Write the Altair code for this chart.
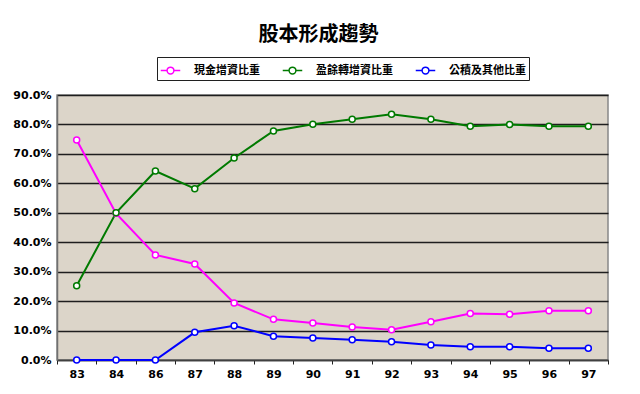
import altair as alt
import pandas as pd

years = ["83", "84", "86", "87", "88", "89", "90", "91", "92", "93", "94", "95", "96", "97"]
cash = [74.7, 49.8, 35.7, 32.6, 19.4, 13.8, 12.6, 11.2, 10.3, 13.0, 15.8, 15.5, 16.7, 16.7]
surplus = [25.2, 50.0, 64.2, 58.2, 68.6, 77.8, 80.1, 81.8, 83.5, 81.8, 79.4, 80.0, 79.4, 79.4]
reserve = [0.0, 0.0, 0.0, 9.4, 11.6, 8.1, 7.5, 6.9, 6.2, 5.1, 4.5, 4.5, 4.0, 4.0]
series_names = ["現金增資比重", "盈餘轉增資比重", "公積及其他比重"]
series_colors = ["#FF00FF", "#007A00", "#0000FF"]

rows = []
for name, vals in zip(series_names, [cash, surplus, reserve]):
    for y, v in zip(years, vals):
        rows.append({"year": y, "value": v / 100.0, "series": name})
df = pd.DataFrame(rows)

legend_path = ("M-1,0 L-0.35,0 M0.35,0 L1,0 "
               "M-0.35,0 A0.35,0.35 0 1,1 0.35,0 A0.35,0.35 0 1,1 -0.35,0 Z")

x_enc = alt.X(
    "year:N", sort=years, bandPosition=0.5,
    scale=alt.Scale(type="band", paddingInner=0, paddingOuter=0),
    axis=alt.Axis(title=None, labelAngle=0, tickBand="extent", grid=False,
                  domainColor="#404040", domainWidth=1.5, tickColor="#202020",
                  tickSize=4, labelPadding=4, labelFontWeight="bold",
                  labelFontSize=11, labelFont="DejaVu Sans", labelColor="black"),
)
y_enc = alt.Y(
    "value:Q",
    scale=alt.Scale(domain=[0, 0.9], nice=False),
    axis=alt.Axis(title=None, format=".1%", values=[i / 10 for i in range(10)],
                  grid=True, gridColor="#1E1E1E", gridWidth=1.5, ticks=False,
                  domainColor="#707070", domainWidth=1.5, labelPadding=6,
                  labelFontWeight="bold", labelFontSize=11, labelFont="DejaVu Sans",
                  labelColor="black"),
)
color_enc = alt.Color(
    "series:N", sort=series_names,
    scale=alt.Scale(domain=series_names, range=series_colors),
    legend=alt.Legend(
        title=None, orient="none", direction="horizontal", legendX=100, legendY=-38,
        symbolType=legend_path, symbolSize=380, symbolStrokeWidth=1.5,
        symbolFillColor="white", labelFont="Noto Sans CJK TC", labelFontSize=11,
        labelFontWeight="bold", labelColor="black", labelOffset=13,
        columnPadding=19, strokeColor="#202020", fillColor="white", padding=3,
    ),
)

lines = alt.Chart(df).mark_line(strokeWidth=2).encode(x=x_enc, y=y_enc, color=color_enc)
points = alt.Chart(df).mark_point(filled=False, fill="white", fillOpacity=1, size=36,
                                  strokeWidth=1.5, opacity=1).encode(
    x=x_enc, y=y_enc, color=alt.Color("series:N", sort=series_names,
                                      scale=alt.Scale(domain=series_names, range=series_colors),
                                      legend=None))

chart = alt.layer(lines, points).properties(
    width=551, height=265,
    title=alt.TitleParams("股本形成趨勢", font="Noto Sans CJK TC", fontSize=20,
                          fontWeight="bold", color="black", anchor="middle",
                          offset=12, dx=-14),
    autosize=alt.AutoSizeParams(type="none"),
    padding={"left": 49, "top": 87, "right": 22, "bottom": 26},
    background="white",
).configure_view(fill="#DCD5C9", stroke="#888888", strokeWidth=1.5)

chart.save("out.html", embed_options={"renderer": "svg", "actions": False})
